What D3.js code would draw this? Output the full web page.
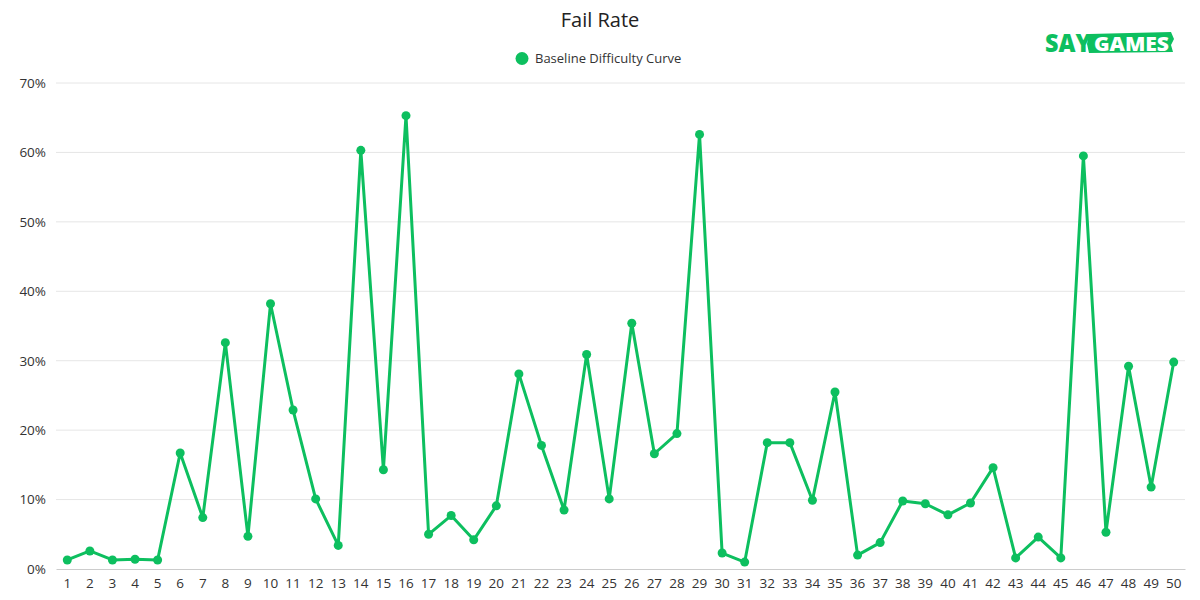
<!DOCTYPE html>
<html>
<head>
<meta charset="utf-8">
<script src="https://cdn.jsdelivr.net/npm/d3@7"></script>
<style>
  body { margin: 0; background: #fff; }
  text { font-family: "Open Sans", sans-serif; }
</style>
</head>
<body>
<div id="chart"></div>
<script>
// level numbers along x
const levels = d3.range(1, 51);

// fail rate per level, in percent
const failRate = [
  1.3, 2.6, 1.3, 1.4, 1.3, 16.7, 7.4, 32.6, 4.7, 38.2,
  22.9, 10.1, 3.4, 60.3, 14.3, 65.3, 5.0, 7.7, 4.2, 9.1,
  28.1, 17.8, 8.5, 30.9, 10.1, 35.4, 16.6, 19.5, 62.6, 2.3,
  1.0, 18.2, 18.2, 9.9, 25.5, 2.0, 3.8, 9.8, 9.4, 7.8,
  9.5, 14.6, 1.6, 4.6, 1.6, 59.5, 5.3, 29.2, 11.8, 29.8
];

const yTicks = [0, 10, 20, 30, 40, 50, 60, 70];
const seriesName = "Baseline Difficulty Curve";
const green = "#0dbf5f";

const width = 1200, height = 600;
const margin = {top: 83, right: 15, bottom: 31, left: 56};

const svg = d3.select("#chart")
  .append("svg")
    .attr("width", width)
    .attr("height", height);

const x = d3.scaleBand()
  .domain(levels)
  .range([margin.left, width - margin.right]);

const y = d3.scaleLinear()
  .domain([0, 70])
  .range([height - margin.bottom, margin.top]);

// grid lines
svg.append("g")
  .selectAll("line")
  .data(yTicks.slice(1))
  .join("line")
    .attr("x1", margin.left)
    .attr("x2", width - margin.right)
    .attr("y1", d => y(d))
    .attr("y2", d => y(d))
    .attr("stroke", "#e6e6e6");

// y axis labels
const yAxis = svg.append("g")
  .attr("transform", "translate(" + margin.left + ",0)")
  .call(d3.axisLeft(y).tickValues(yTicks).tickFormat(d => d + "%").tickSize(0).tickPadding(10));
yAxis.select(".domain").remove();
yAxis.selectAll("text")
  .attr("font-size", 13.5)
  .attr("fill", "#333")
  .style("font-family", "'Open Sans', sans-serif");

// x axis
const xAxis = svg.append("g")
  .attr("transform", "translate(0," + y(0) + ")")
  .call(d3.axisBottom(x).tickSize(0).tickPadding(9));
xAxis.select(".domain").attr("stroke", "#ccc");
xAxis.selectAll("text")
  .attr("font-size", 13.5)
  .attr("fill", "#333")
  .style("font-family", "'Open Sans', sans-serif");

const data = levels.map((l, i) => ({level: l, value: failRate[i]}));
const cx = d => x(d.level) + x.bandwidth() / 2;

svg.append("path")
  .datum(data)
  .attr("fill", "none")
  .attr("stroke", green)
  .attr("stroke-width", 3)
  .attr("stroke-linejoin", "round")
  .attr("d", d3.line().x(cx).y(d => y(d.value)));

svg.append("g")
  .selectAll("circle")
  .data(data)
  .join("circle")
    .attr("cx", cx)
    .attr("cy", d => y(d.value))
    .attr("r", 4.5)
    .attr("fill", green);

// title
svg.append("text")
  .attr("x", width / 2)
  .attr("y", 27)
  .attr("text-anchor", "middle")
  .attr("font-size", 20)
  .attr("fill", "#222")
  .text("Fail Rate");

// legend
svg.append("circle")
  .attr("cx", 522)
  .attr("cy", 58.5)
  .attr("r", 6.5)
  .attr("fill", green);
svg.append("text")
  .attr("x", 535)
  .attr("y", 63)
  .attr("font-size", 13)
  .attr("fill", "#333")
  .text(seriesName);

// logo
const logo = svg.append("g").attr("transform", "translate(1045,30)");
logo.append("path")
  .attr("d", "M44,4 L126,2 L129,9 L126,15 L128,22 L44,23 L42,14 Z")
  .attr("fill", green);
logo.append("text")
  .attr("x", 0)
  .attr("y", 22)
  .attr("font-size", 25)
  .attr("font-weight", 800)
  .attr("fill", green)
  .attr("textLength", 46)
  .attr("lengthAdjust", "spacingAndGlyphs")
  .style("font-family", "'Open Sans', sans-serif")
  .text("SAY");
logo.append("text")
  .attr("x", 49)
  .attr("y", 20.5)
  .attr("font-size", 20)
  .attr("font-weight", 800)
  .attr("fill", "#fff")
  .attr("textLength", 75)
  .attr("lengthAdjust", "spacingAndGlyphs")
  .style("font-family", "'Open Sans', sans-serif")
  .text("GAMES");
</script>
</body>
</html>
